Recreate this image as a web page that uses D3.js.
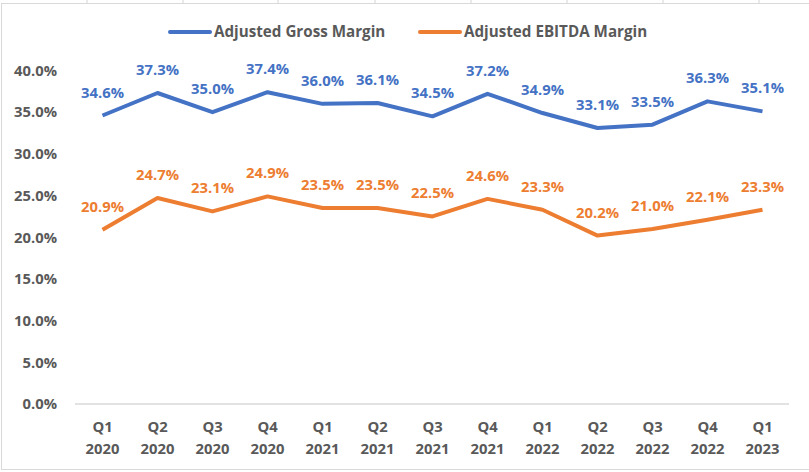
<!DOCTYPE html>
<html><head><meta charset="utf-8">
<script src="https://cdn.jsdelivr.net/npm/d3@7/dist/d3.min.js"></script>
<style>body{margin:0;background:#fff}svg{display:block}text{font-family:"Open Sans",Lato,sans-serif;font-weight:bold}</style>
</head><body><svg id="c" width="809" height="472"></svg>
<script>
const quarters = ["Q1","Q2","Q3","Q4","Q1","Q2","Q3","Q4","Q1","Q2","Q3","Q4","Q1"];
const years = ["2020","2020","2020","2020","2021","2021","2021","2021","2022","2022","2022","2022","2023"];
const grossMargin = [34.6,37.3,35.0,37.4,36.0,36.1,34.5,37.2,34.9,33.1,33.5,36.3,35.1];
const ebitdaMargin = [20.9,24.7,23.1,24.9,23.5,23.5,22.5,24.6,23.3,20.2,21.0,22.1,23.3];
const yTicks = [0,5,10,15,20,25,30,35,40];
const seriesNames = ["Adjusted Gross Margin","Adjusted EBITDA Margin"];
const colors = ["#4472C4","#ED7D31"];

const svg = d3.select("#c");
[87,183,278,375,471,567,663,759].forEach(x=>svg.append("line").attr("x1",x).attr("x2",x).attr("y1",0).attr("y2",3).attr("stroke","#d4d4d4"));
svg.append("rect").attr("x",1.5).attr("y",3.5).attr("width",820).attr("height",466).attr("fill","#fff").attr("stroke","#d9d9d9");

const idx = d3.range(quarters.length);
const x = d3.scaleBand().domain(idx).range([75,790]);
const y = d3.scaleLinear().domain([0,40]).range([404,70.5]);
const cx = i => x(i) + x.bandwidth()/2;

svg.append("line").attr("x1",75).attr("x2",789).attr("y1",y(0)).attr("y2",y(0)).attr("stroke","#d9d9d9").attr("stroke-width",1.5);

const yAxis = d3.axisLeft(y).tickValues(yTicks).tickFormat(d=>d.toFixed(1)+"%").tickSize(0).tickPadding(0);
const ya = svg.append("g").attr("transform","translate(57,0)").call(yAxis);
ya.select(".domain").remove();
ya.selectAll("text").attr("fill","#595959").attr("font-size",14.8).attr("font-family","'Open Sans',sans-serif").attr("font-weight","bold");

const xa = svg.append("g");
idx.forEach(i=>{
  const t = xa.append("text").attr("x",cx(i)).attr("text-anchor","middle").attr("fill","#595959").attr("font-size",14.8);
  t.append("tspan").attr("x",cx(i)).attr("y",432).text(quarters[i]);
  t.append("tspan").attr("x",cx(i)).attr("y",454).text(years[i]);
});

const line = d3.line().x((d,i)=>cx(i)).y(d=>y(d));
[grossMargin, ebitdaMargin].forEach((data,s)=>{
  svg.append("path").datum(data).attr("d",line).attr("fill","none").attr("stroke",colors[s]).attr("stroke-width",4).attr("stroke-linejoin","round");
  svg.append("g").selectAll("text").data(data).join("text")
    .attr("x",(d,i)=>cx(i)).attr("y",d=>y(d)-18).attr("text-anchor","middle")
    .attr("fill",colors[s]).attr("font-size",14.8).text(d=>d.toFixed(1)+"%");
});

const legX = [170,420];
seriesNames.forEach((n,s)=>{
  svg.append("line").attr("x1",legX[s]).attr("x2",legX[s]+40).attr("y1",32).attr("y2",32).attr("stroke",colors[s]).attr("stroke-width",4).attr("stroke-linecap","round");
  svg.append("text").attr("x",legX[s]+44).attr("y",37).attr("fill","#595959").attr("font-size",15.2).text(n);
});
</script></body></html>
